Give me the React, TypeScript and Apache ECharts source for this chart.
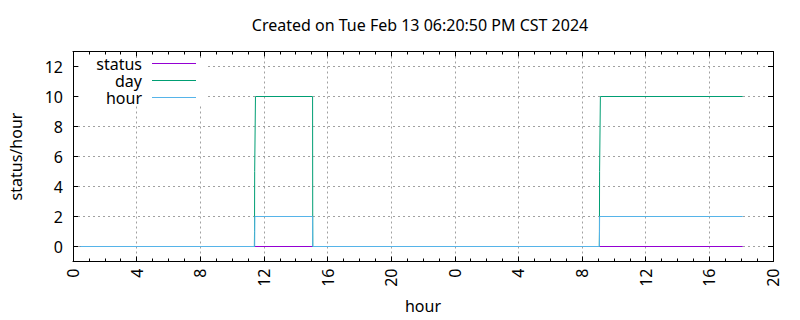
import React, { useEffect, useRef } from "react";
import * as echarts from "echarts";

const titleText = "Created on Tue Feb 13 06:20:50 PM CST 2024";
const xTickLabels = ["0", "4", "8", "12", "16", "20", "0", "4", "8", "12", "16", "20"];
const yTickValues = [0, 2, 4, 6, 8, 10, 12];
const seriesNames = ["status", "day", "hour"];
const seriesColors = ["#9400d3", "#009e73", "#56b4e9"];

const statusTimes = [0.47, 42.1];
const statusValues = [0, 0];
const dayTimes = [0.47, 11.4, 11.41, 11.42, 11.47, 15.06, 15.07, 33.08, 33.09, 33.1, 33.15, 42.1];
const dayValues = [0, 0, 1, 5, 10, 10, 0, 0, 1, 5, 10, 10];
const hourTimes = [0.47, 11.42, 11.43, 15.06, 15.07, 33.09, 33.1, 42.1];
const hourValues = [0, 0, 2, 2, 0, 0, 2, 2];

const FONT = "Noto Sans";
const FS = 16;

function pairs(t: number[], v: number[]) {
  return t.map((x, i) => [x, v[i]]);
}

export default function App() {
  const ref = useRef<HTMLDivElement>(null);
  useEffect(() => {
    document.body.style.margin = "0";
    const chart = echarts.init(ref.current!, null, { renderer: "svg" });
    const gridLine = { show: true, lineStyle: { color: "#a0a0a0", type: [2, 3] as any, width: 1 } };
    const datas = [pairs(statusTimes, statusValues), pairs(dayTimes, dayValues), pairs(hourTimes, hourValues)];
    const legendGraphics: any[] = [
      {
        type: "rect",
        id: "legend-bg",
        z: 90,
        shape: { x: 79, y: 58, width: 127, height: 47 },
        style: { fill: "#ffffff" },
        silent: true,
      },
    ];
    seriesNames.forEach((n, i) => {
      const y = 63 + i * 17;
      legendGraphics.push({
        type: "text",
        id: "legend-text-" + n,
        x: 142,
        y: y + 0.5,
        z: 100,
        style: {
          text: n,
          textAlign: "right",
          textVerticalAlign: "middle",
          font: `${FS}px "${FONT}"`,
          fill: "#000",
        },
      });
      legendGraphics.push({
        type: "rect",
        id: "legend-line-" + n,
        z: 100,
        shape: { x: 152, y, width: 44, height: 1 },
        style: { fill: seriesColors[i] },
      });
    });
    chart.setOption({
      animation: false,
      textStyle: { fontFamily: FONT },
      title: {
        text: titleText,
        left: 415,
        top: 12,
        textAlign: "center",
        textStyle: { fontSize: FS, fontWeight: "normal", color: "#000", fontFamily: FONT },
      },
      grid: { left: 72.5, right: 27, top: 51.5, bottom: 58.5 },
      xAxis: [
        {
          type: "value",
          min: 0,
          max: 44,
          interval: 4,
          position: "bottom",
          name: "hour",
          nameLocation: "middle",
          nameGap: 36,
          nameTextStyle: { fontSize: FS, color: "#000", fontFamily: FONT },
          axisLine: { show: true, onZero: false, lineStyle: { color: "#000", width: 1 } },
          axisTick: { show: true, inside: true, length: 5, lineStyle: { color: "#000" } },
          minorTick: { show: true, splitNumber: 4, length: 3, lineStyle: { color: "#000" } },
          axisLabel: {
            rotate: 90,
            margin: 7,
            fontSize: FS,
            color: "#000",
            fontFamily: FONT,
            formatter: (v: number) => xTickLabels[Math.round(v / 4) % xTickLabels.length],
          },
          splitLine: gridLine,
        },
        {
          type: "value",
          min: 0,
          max: 44,
          interval: 4,
          position: "top",
          axisLine: { show: true, onZero: false, lineStyle: { color: "#000", width: 1 } },
          axisTick: { show: true, inside: true, length: 5, lineStyle: { color: "#000" } },
          minorTick: { show: true, splitNumber: 4, length: 3, lineStyle: { color: "#000" } },
          axisLabel: { show: false },
          splitLine: { show: false },
        },
      ],
      yAxis: [
        {
          type: "value",
          min: -1,
          max: 13,
          position: "left",
          name: "status/hour",
          nameLocation: "middle",
          nameGap: 49,
          nameRotate: 90,
          nameTextStyle: { fontSize: FS, color: "#000", fontFamily: FONT },
          axisLine: { show: true, onZero: false, lineStyle: { color: "#000", width: 1 } },
          axisTick: { show: true, inside: true, length: 5, customValues: yTickValues, lineStyle: { color: "#000" } },
          axisLabel: { margin: 10, fontSize: FS, color: "#000", fontFamily: FONT, customValues: yTickValues },
          splitLine: gridLine,
        },
        {
          type: "value",
          min: -1,
          max: 13,
          position: "right",
          axisLine: { show: true, onZero: false, lineStyle: { color: "#000", width: 1 } },
          axisTick: { show: true, inside: true, length: 5, customValues: yTickValues, lineStyle: { color: "#000" } },
          axisLabel: { show: false, customValues: yTickValues },
          splitLine: { show: false },
        },
      ],
      series: seriesNames.map((n, i) => ({
        name: n,
        type: "line",
        xAxisIndex: 0,
        yAxisIndex: 0,
        z: 10 + i,
        data: datas[i],
        symbol: "none",
        showSymbol: false,
        lineStyle: { color: seriesColors[i], width: 1 },
        itemStyle: { color: seriesColors[i] },
      })),
      graphic: legendGraphics,
    });
    return () => chart.dispose();
  }, []);
  return <div ref={ref} style={{ width: 800, height: 320 }} />;
}
